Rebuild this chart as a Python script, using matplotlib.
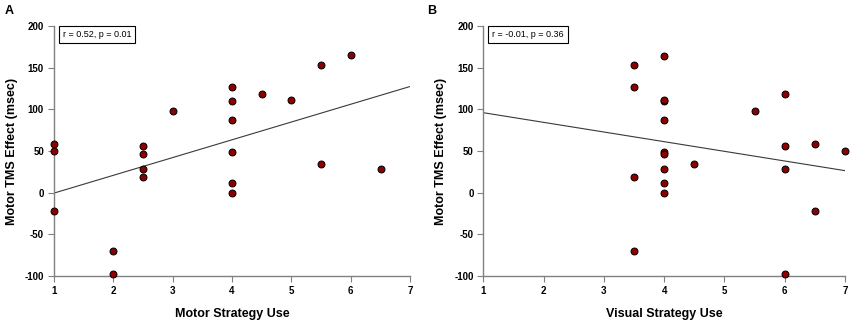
import numpy as np
import matplotlib.pyplot as plt

# ------------------------------------------------------------
# data
# ------------------------------------------------------------
motor_use = [1, 1, 1, 2, 2, 2.5, 2.5, 2.5, 2.5, 3, 4, 4, 4, 4, 4, 4,
             4.5, 5, 5.5, 5.5, 6, 6.5]
motor_tms = [59, 50, -22, -70, -98, 56, 46, 28, 19, 98, 127, 110, 87, 49, 12, 0,
             119, 111, 153, 34, 165, 28]

visual_use = [3.5, 3.5, 3.5, 3.5, 4, 4, 4, 4, 4, 4, 4, 4, 4,
              4.5, 5.5, 6, 6, 6, 6, 6.5, 6.5, 7]
visual_tms = [153, 127, 19, -70, 164, 110, 111, 87, 49, 46, 28, 12, 0,
              34, 98, 119, 56, 29, -98, 59, -22, 50]

panels = ['A', 'B']
xlabels = ['Motor Strategy Use', 'Visual Strategy Use']
stats = ['r = 0.52, p = 0.01', 'r = -0.01, p = 0.36']

plt.rcParams['font.family'] = ['Liberation Sans', 'DejaVu Sans']
plt.rcParams['axes.unicode_minus'] = False

fig = plt.figure(figsize=(8.5, 3.23), dpi=100)
ax_a = fig.add_axes([0.0632, 0.1455, 0.4195, 0.774])
ax_b = fig.add_axes([0.5686, 0.1455, 0.4255, 0.774])

for ax, xs, ys, letter, xl, st in zip([ax_a, ax_b], [motor_use, visual_use],
                                      [motor_tms, visual_tms], panels, xlabels, stats):
    # regression line
    slope, icpt = np.polyfit(xs, ys, 1)
    xx = np.array([1, 7])
    ax.plot(xx, slope * xx + icpt, color='#3a3a3a', linewidth=0.8, zorder=2)

    ax.plot(xs, ys, 'o', markersize=5, markerfacecolor='#8b0000',
            markeredgecolor='black', markeredgewidth=0.7, zorder=3, clip_on=False)

    ax.set_xlim(1, 7)
    ax.set_ylim(-100, 200)
    ax.set_xticks(range(1, 8))
    ax.set_yticks(range(-100, 201, 50))
    for lab in ax.get_xticklabels() + ax.get_yticklabels():
        lab.set_fontweight('bold')
    ax.tick_params(labelsize=7, length=4, width=0.8, color='#808080', pad=3)

    for s in ['top', 'right']:
        ax.spines[s].set_visible(False)
    for s in ['left', 'bottom']:
        ax.spines[s].set_color('#808080')
        ax.spines[s].set_linewidth(1.0)

    ax.set_xlabel(xl, fontsize=9, fontweight='bold', labelpad=9)
    ax.set_ylabel('Motor TMS Effect (msec)', fontsize=9, fontweight='bold', labelpad=5)

    ax.text(0.025, 0.985, st, transform=ax.transAxes, fontsize=6.5,
            va='top', ha='left',
            bbox=dict(boxstyle='square,pad=0.45', facecolor='white',
                      edgecolor='black', linewidth=0.8))

fig.text(0.006, 0.985, 'A', fontsize=9, fontweight='bold', va='top', ha='left')
fig.text(0.503, 0.985, 'B', fontsize=9, fontweight='bold', va='top', ha='left')

plt.savefig('out.png', dpi=100)
